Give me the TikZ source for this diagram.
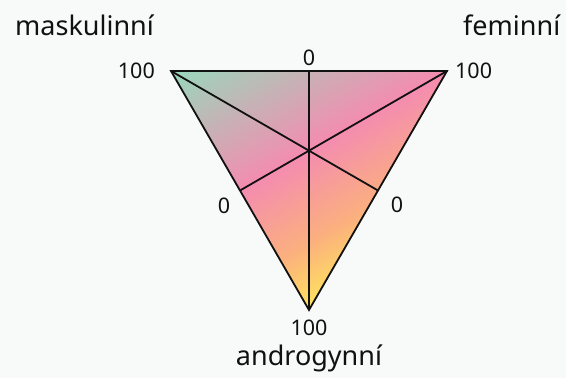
\documentclass[tikz,border=0pt]{standalone}
\usepackage{fontspec}
\setmainfont{Noto Sans}
\usetikzlibrary{positioning}
\definecolor{bgc}{HTML}{F8F9F9}
\definecolor{mint}{HTML}{98D8BC}
\definecolor{pinkc}{HTML}{F48CB0}
\definecolor{peach}{HTML}{FBB07E}
\definecolor{sun}{HTML}{FFE45C}
\definecolor{ink}{HTML}{111111}
\pgfdeclareverticalshading{genderfade}{100bp}{color(0bp)=(sun); color(25bp)=(sun); color(35.5bp)=(peach); color(50bp)=(pinkc); color(75bp)=(mint); color(100bp)=(mint)}

\begin{document}
\begin{tikzpicture}[x=1pt, y=1pt,
    edge/.style={line width=1.8pt, draw=ink},
    num/.style={font=\fontsize{21.5}{26}\selectfont, text=ink, inner sep=0pt},
    ttl/.style={font=\fontsize{27}{32}\selectfont, text=ink, inner sep=0pt}]
  \fill[bgc] (0,0) rectangle (566,378);
  \useasboundingbox (0,0) rectangle (566,378);

  \coordinate (tl) at (171,307);
  \coordinate (tr) at (447,307);
  \coordinate (bt) at (309,68);
  \coordinate (mtop) at (309,307);
  \coordinate (mleft) at (240,187.5);
  \coordinate (mright) at (378,187.5);

  \begin{scope}
    \clip (tl) -- (tr) -- (bt) -- cycle;
    \begin{scope}[overlay, transform canvas={shift={(309,227.33)}, rotate=30}]
      \shade[shading=genderfade] (-200,-138) rectangle (200,138);
    \end{scope}
  \end{scope}

  \draw[edge] (tl) -- (tr) -- (bt) -- cycle;
  \draw[edge] (tl) -- (mright);
  \draw[edge] (tr) -- (mleft);
  \draw[edge] (bt) -- (mtop);

  \node[num, anchor=east] (ntl) at ([xshift=-16pt]tl) {100};
  \node[num, anchor=south] (ntop) at ([yshift=5pt]mtop) {0};
  \node[num, anchor=west] (ntr) at ([xshift=8pt]tr) {100};
  \node[num] (nleft) at ([xshift=-16pt, yshift=-15pt]mleft) {0};
  \node[num] (nright) at ([xshift=19pt, yshift=-14pt]mright) {0};
  \node[num, anchor=north] (nbt) at ([yshift=-10pt]bt) {100};

  \node[ttl, anchor=base west] (masc) at (15,342) {maskulinní};
  \node[ttl, anchor=base west] (fem) at (463,342) {feminní};
  \node[ttl, anchor=base] (andro) at (309,12) {androgynní};
\end{tikzpicture}
\end{document}
